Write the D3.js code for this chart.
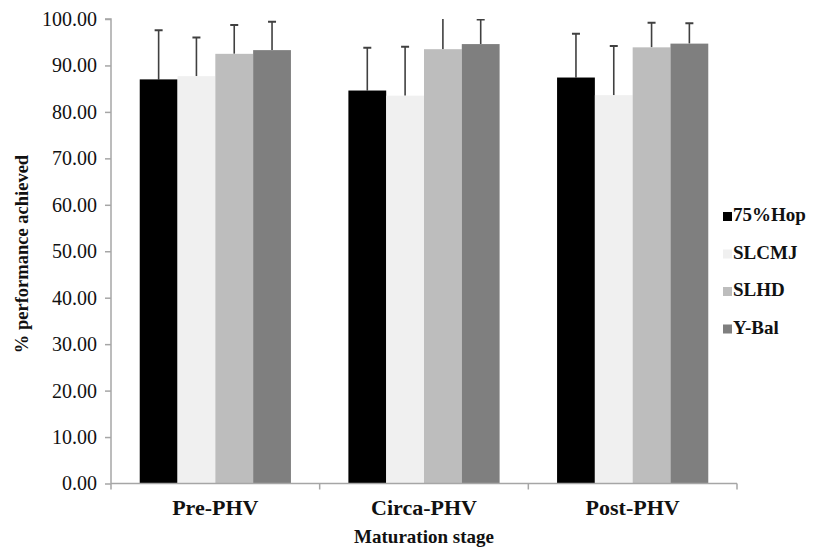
<!DOCTYPE html>
<html><head><meta charset="utf-8">
<script src="https://cdn.jsdelivr.net/npm/d3@7"></script>
<style>body{margin:0;background:#fff}svg{display:block}</style>
</head><body>
<svg id="c" width="818" height="553"></svg>
<script>
const categories = ["Pre-PHV", "Circa-PHV", "Post-PHV"];
const seriesNames = ["75%Hop", "SLCMJ", "SLHD", "Y-Bal"];
const hop75 = [87.0, 84.6, 87.4];
const slcmj = [87.7, 83.5, 83.6];
const slhd = [92.5, 93.5, 93.9];
const ybal = [93.3, 94.6, 94.7];
const hop75Err = [10.6, 9.2, 9.4];
const slcmjErr = [8.3, 10.5, 10.6];
const slhdErr = [6.2, 7.0, 5.3];
const ybalErr = [6.1, 5.3, 4.4];
const yTicks = [0, 10, 20, 30, 40, 50, 60, 70, 80, 90, 100];
const colors = ["#000000", "#f0f0f0", "#bdbdbd", "#7f7f7f"];

const values = [hop75, slcmj, slhd, ybal];
const errs = [hop75Err, slcmjErr, slhdErr, ybalErr];
const FONT = "Liberation Serif, Times New Roman, serif";

const svg = d3.select("#c");
const L = 111, R = 737, T = 19, B = 483.5;
const x = d3.scaleBand().domain(categories).range([L, R]).paddingInner(0).paddingOuter(0);
const y = d3.scaleLinear().domain([0, 100]).range([B, T]);
const inner = d3.scaleBand().domain(seriesNames).range([0, x.bandwidth()]).paddingInner(0).paddingOuter(0.76);

svg.append("defs").append("clipPath").attr("id", "clip")
  .append("rect").attr("x", L).attr("y", T).attr("width", R - L).attr("height", B - T);

const data = [];
categories.forEach((c, i) => seriesNames.forEach((s, j) => data.push({c, s, j, v: values[j][i], e: errs[j][i]})));

const eg = svg.append("g").attr("clip-path", "url(#clip)");
data.forEach(d => {
  const cx = x(d.c) + inner(d.s) + inner.bandwidth() / 2;
  eg.append("line").attr("x1", cx).attr("x2", cx).attr("y1", y(d.v)).attr("y2", y(d.v + d.e))
    .attr("stroke", "#404040").attr("stroke-width", 1.6);
  eg.append("line").attr("x1", cx - 4).attr("x2", cx + 4).attr("y1", y(d.v + d.e)).attr("y2", y(d.v + d.e))
    .attr("stroke", "#404040").attr("stroke-width", 2);
});

svg.append("g").selectAll("rect").data(data).join("rect")
  .attr("x", d => x(d.c) + inner(d.s))
  .attr("width", inner.bandwidth())
  .attr("y", d => y(d.v))
  .attr("height", d => B - y(d.v))
  .attr("fill", d => colors[d.j]);

const axisColor = "#a6a6a6";
const yAxis = svg.append("g").attr("transform", `translate(${L},0)`)
  .call(d3.axisLeft(y).tickValues(yTicks).tickFormat(d3.format(".2f")).tickSize(6).tickPadding(8));
yAxis.selectAll("path,line").attr("stroke", axisColor).attr("stroke-width", 1.5);
yAxis.select(".domain").attr("d", `M-6,${T}H0V${B}`);
yAxis.selectAll("text").attr("font-family", FONT)
  .attr("font-size", 20).attr("fill", "#111");

const xAxis = svg.append("g").attr("transform", `translate(0,${B})`);
xAxis.append("line").attr("x1", L).attr("x2", R).attr("y1", 0).attr("y2", 0)
  .attr("stroke", axisColor).attr("stroke-width", 1.5);
const bounds = categories.map(c => x(c)).concat([R]);
xAxis.selectAll("line.tk").data(bounds).join("line").attr("class", "tk")
  .attr("x1", d => d).attr("x2", d => d).attr("y1", 0).attr("y2", 6)
  .attr("stroke", axisColor).attr("stroke-width", 1.5);
xAxis.selectAll("text").data(categories).join("text")
  .attr("x", d => x(d) + x.bandwidth() / 2).attr("y", 31.5)
  .attr("text-anchor", "middle")
  .attr("font-family", FONT)
  .attr("font-weight", "bold").attr("font-size", 22).attr("fill", "#111")
  .text(d => d);

svg.append("text").attr("x", (L + R) / 2).attr("y", 543).attr("text-anchor", "middle")
  .attr("font-family", FONT)
  .attr("font-weight", "bold").attr("font-size", 19).attr("fill", "#111")
  .text("Maturation stage");

svg.append("text").attr("transform", `translate(28,254) rotate(-90)`)
  .attr("text-anchor", "middle")
  .attr("font-family", FONT)
  .attr("font-weight", "bold").attr("font-size", 18.5).attr("fill", "#111")
  .text("% performance achieved");

const lg = svg.append("g").attr("transform", "translate(723,221)");
seriesNames.forEach((s, i) => {
  const g = lg.append("g").attr("transform", `translate(0,${i * 37.5})`);
  g.append("rect").attr("x", 0).attr("y", -9).attr("width", 9).attr("height", 9).attr("fill", colors[i]);
  g.append("text").attr("x", 10).attr("y", 0)
    .attr("font-family", FONT)
    .attr("font-weight", "bold").attr("font-size", 19).attr("fill", "#111")
    .text(s);
});
</script>
</body></html>
